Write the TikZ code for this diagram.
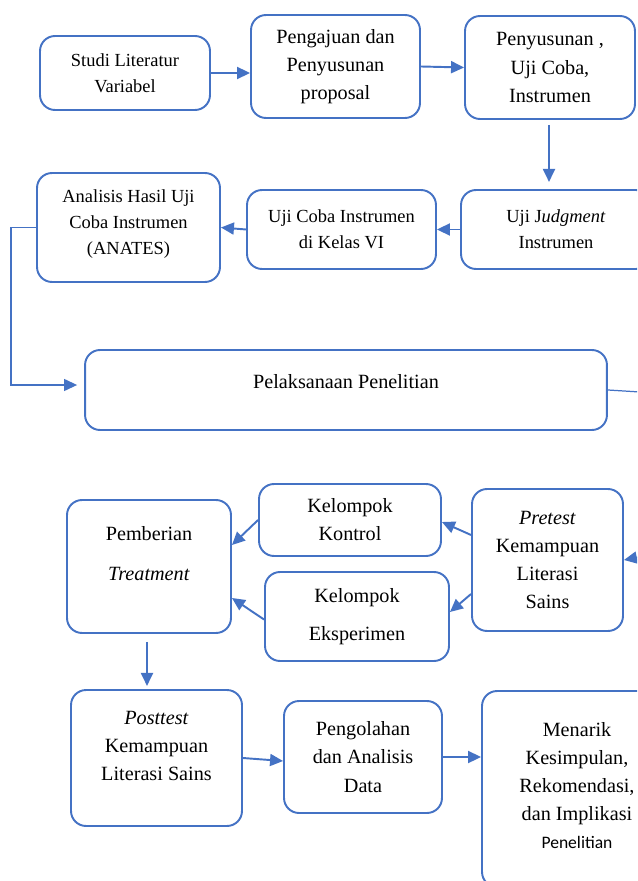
\documentclass[tikz,border=0pt]{standalone}
\usepackage{fontspec}
\setmainfont{Liberation Serif}
\newfontfamily\calibri{Carlito}
\usetikzlibrary{arrows.meta,positioning}
\definecolor{boxblue}{RGB}{68,114,196}

\begin{document}
\begin{tikzpicture}[x=0.02cm,y=-0.02cm,
  box/.style={draw=boxblue,line width=1.1pt,rounded corners=0.3cm,align=center,inner sep=1pt,font=\fontsize{11.5}{16}\selectfont},
  small/.style={font=\fontsize{10.5}{15}\selectfont},
  arr/.style={-{Triangle[length=2.6mm,width=2.4mm]},boxblue,line width=1.1pt},
  link/.style={boxblue,line width=0.7pt}]
\useasboundingbox (0,0) rectangle (637,881);
\clip (0,0) rectangle (637,881);
% persiapan
\node[box,small,minimum width=3.4cm,minimum height=1.48cm] (studi) at (125,73) {Studi Literatur\\Variabel};
\node[box,minimum width=3.38cm,minimum height=2.06cm] (pengajuan) at (335.5,66.5) {Pengajuan dan\\Penyusunan\\proposal};
\node[box,minimum width=3.4cm,minimum height=2.06cm] (penyusunan) at (550,67.5) {Penyusunan ,\\Uji Coba,\\Instrumen};
\node[box,small,minimum width=3.8cm,minimum height=1.58cm] (judgment) at (556,229.5) {Uji J\textit{udgment}\\Instrumen};
\node[box,small,minimum width=3.78cm,minimum height=1.58cm] (kelas) at (341.5,229.5) {Uji Coba Instrumen\\di Kelas VI};
\node[box,small,minimum width=3.66cm,minimum height=2.18cm] (analisis) at (128.5,227.5) {Analisis Hasil Uji\\Coba Instrumen\\(ANATES)\\[-9pt]\mbox{}};
\node[box,minimum width=10.44cm,minimum height=1.6cm] (pelaksanaan) at (346,390) {Pelaksanaan Penelitian\\[-6pt]\mbox{}};
% pelaksanaan
\node[box,minimum width=3.02cm,minimum height=2.84cm] (pretest) at (547.5,560) {\textit{Pretest}\\Kemampuan\\Literasi\\Sains};
\node[box,minimum width=3.64cm,minimum height=1.44cm] (kontrol) at (350,520) {Kelompok\\Kontrol};
\node[box,minimum width=3.68cm,minimum height=1.78cm] (eksperimen) at (357,616.5) {Kelompok\\[6pt]Eksperimen};
\node[box,minimum width=3.28cm,minimum height=2.66cm] (pemberian) at (149,566.5) {Pemberian\\[7pt]\textit{Treatment}\\[-1pt]\mbox{}};
\node[box,minimum width=3.42cm,minimum height=2.72cm] (posttest) at (156.5,758) {\textit{Posttest}\\Kemampuan\\Literasi Sains\\[-2.5pt]\mbox{}};
\node[box,minimum width=3.16cm,minimum height=2.24cm] (pengolahan) at (363,757) {Pengolahan\\dan Analisis\\Data};
\node[box,minimum width=3.8cm,minimum height=3.92cm] (menarik) at (577,789) {Menarik\\Kesimpulan,\\Rekomendasi,\\dan Implikasi\\{\calibri\fontsize{10}{16}\selectfont Penelitian}\\[-12pt]\mbox{}};
\coordinate (edgeA) at (640,392);
\coordinate (edgeB) at (640,557);
% alur
\draw[arr] (studi.east) -- (studi.east -| pengajuan.west);
\draw[arr] (pengajuan.east) -- (penyusunan.west);
\draw[arr,shorten <=0.1cm,shorten >=0.14cm] (penyusunan.south) ++(-1,0) -- ++(0,69);
\draw[arr] (judgment.west) -- (kelas.east);
\draw[arr] (kelas.west) -- (analisis.east);
\draw[link,-{Triangle[length=2.6mm,width=2.4mm]},shorten >=0.14cm] (analisis.west) -- ++(-25,0) |- ([yshift=0.1cm]pelaksanaan.west);
\draw[link] (pelaksanaan.east) -- (edgeA);
\draw[arr] (edgeB) -- (pretest.east);
\draw[arr] ([yshift=0.5cm]pretest.west) -- ([yshift=-0.04cm]kontrol.east);
\draw[arr] ([yshift=-0.68cm]pretest.west) -- ([yshift=0.09cm]eksperimen.east);
\draw[arr] (kontrol.west) -- ([yshift=0.43cm]pemberian.east);
\draw[arr] ([yshift=-0.06cm]eksperimen.west) -- ([yshift=-0.63cm]pemberian.east);
\draw[arr,shorten <=0.16cm,shorten >=0.1cm] (pemberian.south) ++(-2,0) -- ++(0,57);
\draw[arr] (posttest.east) -- ([yshift=-0.08cm]pengolahan.west);
\draw[arr] (pengolahan.east) -- (pengolahan.east -| menarik.west);
\end{tikzpicture}
\end{document}
